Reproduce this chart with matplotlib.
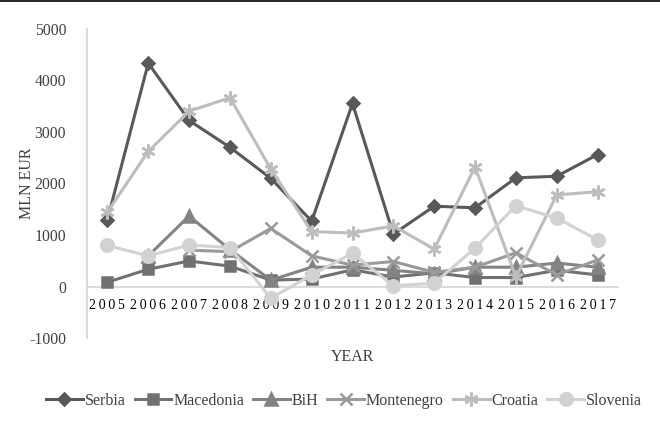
import matplotlib.pyplot as plt
from matplotlib.lines import Line2D
import numpy as np

plt.rcParams['font.family'] = ['Liberation Serif', 'DejaVu Serif']
plt.rcParams['axes.unicode_minus'] = False

years = ['2005', '2006', '2007', '2008', '2009', '2010', '2011',
         '2012', '2013', '2014', '2015', '2016', '2017']

serbia = [1300, 4330, 3220, 2700, 2100, 1270, 3550, 1020, 1560, 1530, 2110, 2140, 2560]
macedonia = [90, 340, 500, 400, 130, 150, 330, 190, 270, 180, 180, 320, 230]
bih = [np.nan, 600, 1370, 720, 130, 380, 380, 320, 250, 380, 380, 460, 380]
montenegro = [np.nan, np.nan, 710, 680, 1130, 600, 420, 490, 280, 380, 660, 230, 520]
croatia = [1450, 2620, 3400, 3660, 2280, 1070, 1040, 1180, 730, 2320, 190, 1780, 1840]
slovenia = [800, 600, 810, 760, -220, 230, 650, 20, 70, 750, 1570, 1330, 910]

series = [
    ('Serbia', serbia, '#595959', 'D', 6),
    ('Macedonia', macedonia, '#717171', 's', 7.5),
    ('BiH', bih, '#838383', '^', 8.5),
    ('Montenegro', montenegro, '#9a9a9a', 'x', 8),
    ('Croatia', croatia, '#bdbdbd', (6, 2, 0), 10),
    ('Slovenia', slovenia, '#d2d2d2', 'o', 9),
]

txt = '#404040'

fig = plt.figure(figsize=(6.6, 4.42), dpi=100)
ax = fig.add_axes([0.1318, 0.2342, 0.8046, 0.7013])

x = np.arange(len(years))
for name, vals, col, mk, ms in series:
    ax.plot(x, vals, color=col, lw=2.2, marker=mk, markersize=ms,
            markeredgewidth=1.8, label=name)

ax.set_xlim(-0.5, len(years) - 0.5)
ax.set_ylim(-1000, 5000)
ax.set_yticks(range(-1000, 5001, 1000))
ax.set_xticks(x)
ax.set_xticklabels(['\u2009'.join(y) for y in years], fontsize=12, color=txt)
ax.tick_params(axis='y', length=0, pad=15, labelsize=11.3, labelcolor=txt)
ax.tick_params(axis='x', length=0, pad=9)

for s in ['top', 'right']:
    ax.spines[s].set_visible(False)
ax.spines['left'].set_color('#d9d9d9')
ax.spines['left'].set_linewidth(1.3)
ax.spines['bottom'].set_position(('data', 0))
ax.spines['bottom'].set_color('#d9d9d9')
ax.spines['bottom'].set_linewidth(1.3)
ax.spines['bottom'].set_zorder(0)

ax.set_ylabel('MLN EUR', fontsize=11.5, color=txt)
ax.yaxis.set_label_coords(-0.098, 0.5)
ax.set_xlabel('YEAR', fontsize=11.5, color=txt)
ax.xaxis.set_label_coords(0.5, -0.034)

fig.legend(loc='center', bbox_to_anchor=(344 / 660, 1 - 401 / 442), ncol=6,
           frameon=False, fontsize=11.5, handlelength=2.3, handletextpad=0.12,
           columnspacing=0.56, labelcolor=txt, borderaxespad=0)

fig.add_artist(Line2D([0, 1], [0.997, 0.997], color='black', lw=1.2))

fig.savefig('out.png', dpi=100)
